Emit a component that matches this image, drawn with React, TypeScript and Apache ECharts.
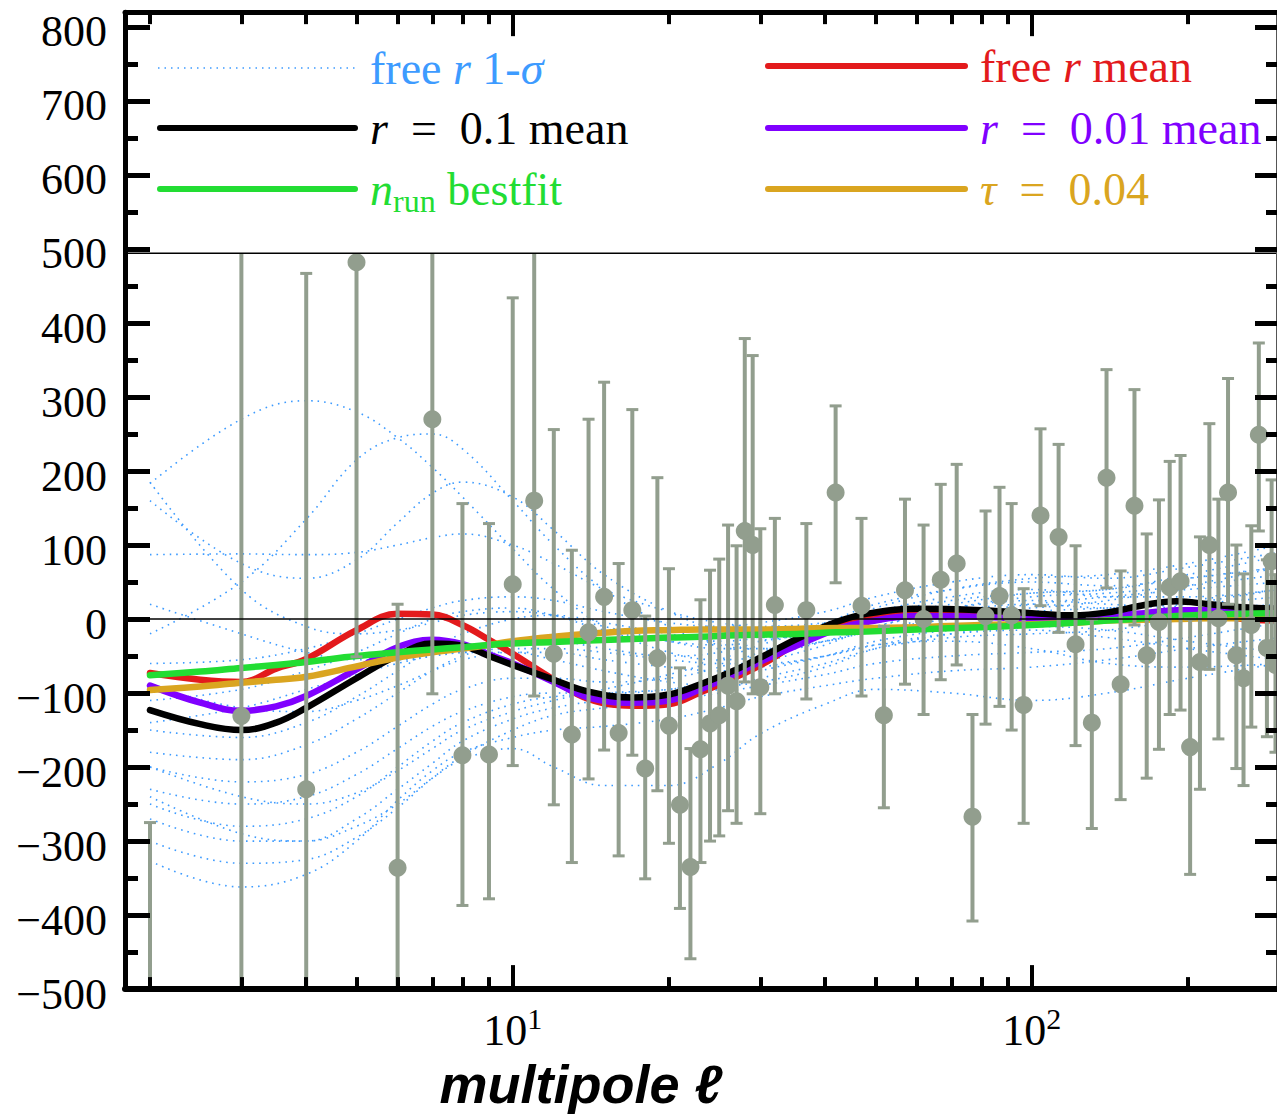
import React, { useEffect, useRef } from 'react';
import * as echarts from 'echarts';

const SERIF = '"Liberation Serif", "Times New Roman", serif';
const SANS = '"Liberation Sans", Arial, sans-serif';

const COLOR_SAMPLE = '#3d9bff';
const COLOR_FREE = '#e31a1c';
const COLOR_R01 = '#000000';
const COLOR_R001 = '#8000ff';
const COLOR_NRUN = '#22dd33';
const COLOR_TAU = '#daa520';
const COLOR_DATA = '#929e8e';

// ---- measured band powers with error bars ----
const multipoles = [
  2, 3, 4, 5, 6, 7, 8, 9, 10, 11, 12, 13, 14, 15, 16, 17, 18, 19, 20, 21, 22, 23, 24, 25, 26, 27, 28, 29, 30,
  32, 36.8, 41.9, 47, 51.9, 57, 61.9, 66.8, 71.7, 76.9, 81.5, 86.7, 91.5, 96.5, 104, 112.7, 121.5, 130.6, 139.4, 148.4,
  157.8, 166.6, 175.9, 184.5, 193.6, 202, 211, 220, 229, 239, 248, 256, 265, 274, 284, 290, 295,
];
const bandpowers = [
  -720, -131, -230, 482, -336, 270, -184, -183, 47, 160, -47, -156, -18, 30, -154, 12, -202, -53, -144, -251,
  -335, -176, -141, -130, -90, -111, 119, 100, -92,
  19, 12, 171, 18, -130, 39, 0, 53, 75, -267, 4, 31, 5, -116, 140, 111, -34, -140, 191, -88,
  153, -49, -4, 43, 51, -173, -58, 100, 1, 171, -49, -80, -8, 249, -39, 78, -62,
];
const errorLow = [
  -1100, -830, -930, -51, -690, -101, -387, -378, -198, -104, -251, -329, -216, -177, -320, -184, -351, -232, -303, -391,
  -459, -329, -300, -293, -259, -276, -85, -101, -263,
  -101, -108, 49, -104, -255, -88, -129, -82, -62, -408, -142, -118, -150, -276, 18, -18, -171, -283, 42, -244,
  -8, -215, -176, -129, -123, -345, -230, -68, -162, 20, -202, -225, -146, 119, -159, -30, -180,
];
const errorHigh = [
  -275, 570, 467, 1015, 20, 640, 156, 129, 434, 560, 256, 93, 270, 320, 75, 283, 4, 191, 68, -66,
  -175, 26, 66, 81, 127, 99, 379, 356, 122,
  136, 129, 288, 136, -10, 162, 127, 182, 209, -129, 146, 178, 156, 41, 257, 236, 99, 0, 337, 65,
  310, 115, 161, 213, 221, 0, 111, 264, 162, 325, 100, 61, 126, 373, 80, 188, 60,
];

// ---- model curves ----
const curveEll = [2, 2.5, 3, 3.5, 4, 5, 6, 7, 8, 9, 10, 12, 14, 17, 20, 23, 27, 31, 36, 42, 48, 60, 80, 100, 120, 140, 165, 190, 220, 255, 300];
const freeRMean = [-73, -82, -85, -67, -54, -15, 7, 6, -8, -28, -47, -82, -108, -117, -115, -99, -78, -57, -29, -10, 3, 9, 5, 0, -1, 1, 3, 6, 7, 0, -2];
const r01Mean = [-123, -142, -150, -140, -120, -80, -49, -33, -36, -50, -62, -82, -98, -106, -102, -88, -68, -47, -24, -4, 7, 14, 12, 8, 5, 9, 19, 24, 20, 16, 14];
const r001Mean = [-90, -113, -124, -118, -104, -68, -38, -28, -34, -48, -60, -85, -106, -113, -110, -95, -73, -53, -33, -14, -4, 4, 3, 0, -1, 4, 8, 12, 12, 13, 14];
const nRunBestfit = [-76, -71, -66, -62, -58, -50, -45, -41, -38, -35, -33, -31, -29, -27, -25, -24, -22, -21, -20, -18, -17, -14, -11, -8, -5, -2, 1, 4, 6, 7, 8];
const tau004 = [-96, -91, -86, -82, -78, -64, -52, -45, -40, -35, -30, -24, -20, -16, -15, -14, -14, -14, -13, -12, -12, -11, -8, -7, -5, -2, -1, 0, 1, 1, 2];

// ---- free r 1-sigma sample curves ----
const sampleEll = [2, 3, 4, 5, 6, 7, 8, 10, 12, 15, 20, 25, 30, 40, 50, 70, 100, 140, 200, 300];
const freeRSamples = [
  [183, 270, 295, 280, 245, 205, 165, 95, 40, -10, -45, -55, -50, -30, -10, 10, 20, 15, 25, 40],
  [-20, 50, 135, 215, 245, 250, 230, 160, 100, 40, -10, -35, -40, -30, -15, 5, 20, 30, 40, 50],
  [160, 75, 55, 80, 130, 170, 185, 165, 120, 60, 10, -15, -25, -20, -5, 15, 30, 35, 45, 60],
  [87, 88, 87, 90, 100, 110, 115, 100, 75, 40, 10, -5, -10, -5, 5, 20, 35, 40, 55, 70],
  [185, 40, -10, -20, -15, -5, 5, 10, 5, -10, -30, -40, -40, -30, -15, 0, 10, 15, 20, 30],
  [-110, -95, -70, -45, -20, 0, 10, 15, 5, -15, -30, -35, -30, -15, 0, 15, 25, 20, 15, 20],
  [-150, -160, -140, -105, -70, -40, -20, 0, 5, -5, -20, -30, -25, -10, 10, 30, 40, 30, 30, 40],
  [-180, -190, -170, -135, -100, -70, -50, -30, -30, -40, -50, -45, -30, -5, 20, 40, 50, 45, 55, 70],
  [-200, -220, -210, -180, -145, -115, -95, -80, -80, -85, -80, -65, -45, -20, 5, 25, 35, 40, 60, 85],
  [-230, -250, -240, -210, -175, -145, -125, -105, -100, -100, -95, -80, -60, -35, -10, 10, 15, 25, 45, 70],
  [-250, -280, -270, -240, -200, -165, -140, -115, -105, -100, -95, -85, -70, -50, -30, -15, -10, 0, 20, 40],
  [-270, -300, -300, -270, -230, -195, -165, -135, -120, -110, -105, -95, -80, -60, -40, -25, -20, -15, 0, 20],
  [-300, -330, -325, -295, -255, -215, -185, -150, -130, -120, -110, -100, -90, -75, -60, -50, -45, -40, -25, -5],
  [-327, -362, -345, -300, -245, -205, -180, -160, -150, -145, -135, -120, -105, -90, -80, -70, -65, -55, -40, -25],
  [-240, -290, -300, -280, -250, -215, -190, -175, -200, -225, -225, -195, -155, -115, -95, -100, -110, -100, -80, -60],
  [-140, -120, -95, -75, -60, -50, -45, -45, -55, -70, -85, -90, -85, -65, -40, -20, -10, -15, -30, -45],
  [-60, -55, -40, -20, 0, 15, 25, 30, 25, 10, -5, -10, -5, 10, 30, 50, 60, 55, 70, 90],
  [20, -20, -45, -55, -55, -50, -45, -40, -40, -45, -55, -60, -60, -50, -35, -20, -15, -25, -40, -55],
  [-90, -120, -125, -110, -90, -70, -55, -45, -45, -55, -65, -70, -65, -50, -35, -30, -40, -60, -65, -60],
  [-200, -240, -250, -235, -205, -175, -150, -125, -110, -95, -75, -55, -35, -10, 15, 40, 55, 60, 75, 100],
];

// ---- axes ----
const X_MIN = 1.79;
const X_MAX = 297;
const Y_MIN = -500;
const Y_MAX = 820;
const xMajorTicks = [10, 100];
const xMinorTicks = [2, 3, 4, 5, 6, 7, 8, 9, 20, 30, 40, 50, 60, 70, 80, 90, 200];
const yMajorTicks = [-500, -400, -300, -200, -100, 0, 100, 200, 300, 400, 500, 600, 700, 800];
const yMinorTicks = [-450, -350, -250, -150, -50, 50, 150, 250, 350, 450, 550, 650, 750];

const LEGEND_BOTTOM_VALUE = 495;

function pairs(xs: number[], ys: number[]) {
  return xs.map((x, i) => [x, ys[i]]);
}

function buildOption(): any {
  const GRID = { left: 125, right: 0, top: 12, bottom: 124 };
  const plotH = 1116 - GRID.top - GRID.bottom;
  const legendBottomPx = GRID.top + ((Y_MAX - LEGEND_BOTTOM_VALUE) / (Y_MAX - Y_MIN)) * plotH;

  const xAxisCommon = {
    type: 'log',
    logBase: 10,
    min: X_MIN,
    max: X_MAX,
    z: 10,
    splitLine: { show: false },
    minorTick: { show: false },
    minorSplitLine: { show: false },
  };
  const yAxisCommon = {
    type: 'value',
    min: Y_MIN,
    max: Y_MAX,
    z: 10,
    splitLine: { show: false },
    minorTick: { show: false },
  };

  const series: any[] = [];

  freeRSamples.forEach((vals, k) => {
    const s: any = {
      name: 'free r 1-σ',
      type: 'line',
      z: 1,
      silent: true,
      smooth: 0.4,
      symbol: 'none',
      data: pairs(sampleEll, vals),
      lineStyle: { color: COLOR_SAMPLE, width: 1.6, type: [1.6, 5] },
    };
    if (k === 0) {
      s.markLine = {
        silent: true,
        symbol: ['none', 'none'],
        label: { show: false },
        lineStyle: { color: '#000', width: 1.5, type: 'solid' },
        data: [{ yAxis: 0 }],
      };
    }
    series.push(s);
  });

  const curveDefs = [
    { name: 'free r mean', data: freeRMean, color: COLOR_FREE },
    { name: 'r = 0.01 mean', data: r001Mean, color: COLOR_R001 },
    { name: 'r = 0.1 mean', data: r01Mean, color: COLOR_R01 },
    { name: 'τ = 0.04', data: tau004, color: COLOR_TAU },
    { name: 'n_run bestfit', data: nRunBestfit, color: COLOR_NRUN },
  ];
  curveDefs.forEach((c) => {
    series.push({
      name: c.name,
      type: 'line',
      z: 2,
      silent: true,
      smooth: 0.4,
      symbol: 'none',
      data: pairs(curveEll, c.data),
      lineStyle: { color: c.color, width: 6.5, cap: 'round', join: 'round' },
    });
  });

  series.push({
    name: 'data error',
    type: 'custom',
    z: 3,
    silent: true,
    data: multipoles.map((l, i) => [l, errorLow[i], errorHigh[i]]),
    encode: { x: 0, y: [1, 2] },
    renderItem: (params: any, api: any) => {
      const l = api.value(0);
      const lo = api.value(1);
      const hi = api.value(2);
      const cs = params.coordSys;
      const pLo = api.coord([l, lo]);
      const pHi = api.coord([l, hi]);
      const x = pLo[0];
      const yTop = cs.y;
      const yBot = cs.y + cs.height;
      if (x < cs.x - 2 || x > cs.x + cs.width + 2) return null;
      const y1 = Math.max(yTop, Math.min(yBot, pHi[1]));
      const y2 = Math.max(yTop, Math.min(yBot, pLo[1]));
      const style = { stroke: COLOR_DATA, lineWidth: 4 };
      const children: any[] = [
        { type: 'line', shape: { x1: x, y1, x2: x, y2 }, style },
      ];
      const capW = 6;
      if (pHi[1] >= yTop && pHi[1] <= yBot) {
        children.push({ type: 'line', shape: { x1: x - capW, y1: pHi[1], x2: x + capW, y2: pHi[1] }, style: { stroke: COLOR_DATA, lineWidth: 3 } });
      }
      if (pLo[1] >= yTop && pLo[1] <= yBot) {
        children.push({ type: 'line', shape: { x1: x - capW, y1: pLo[1], x2: x + capW, y2: pLo[1] }, style: { stroke: COLOR_DATA, lineWidth: 3 } });
      }
      return { type: 'group', children };
    },
  });

  series.push({
    name: 'data',
    type: 'scatter',
    z: 4,
    silent: true,
    clip: true,
    symbol: 'circle',
    symbolSize: 18,
    itemStyle: { color: COLOR_DATA, opacity: 1 },
    data: pairs(multipoles, bandpowers),
  });

  const baseRich = {
    n: { fontFamily: SERIF, fontSize: 46, lineHeight: 56 },
    i: { fontFamily: SERIF, fontSize: 46, lineHeight: 56, fontStyle: 'italic' },
    sub: { fontFamily: SERIF, fontSize: 32, lineHeight: 32, verticalAlign: 'bottom' },
  };

  const EQ = '\u2002=\u2002';
  const legendRows = [
    { x1: 158, x2: 355, y: 68, tx: 370, color: COLOR_SAMPLE, dotted: true, text: '{n|free }{i|r}{n| 1-}{i|σ}' },
    { x1: 160, x2: 355, y: 128, tx: 370, color: COLOR_R01, dotted: false, text: '{i|r}{n|' + EQ + '0.1 mean}' },
    { x1: 160, x2: 355, y: 189, tx: 370, color: COLOR_NRUN, dotted: false, text: '{i|n}{sub|run}{n| bestfit}' },
    { x1: 768, x2: 965, y: 66, tx: 980, color: COLOR_FREE, dotted: false, text: '{n|free }{i|r}{n| mean}' },
    { x1: 768, x2: 965, y: 128, tx: 980, color: COLOR_R001, dotted: false, text: '{i|r}{n|' + EQ + '0.01 mean}' },
    { x1: 768, x2: 965, y: 189, tx: 980, color: COLOR_TAU, dotted: false, text: '{i|τ}{n|' + EQ + '0.04}' },
  ];

  const graphicEls: any[] = [
    {
      type: 'rect',
      z: 5,
      silent: true,
      shape: { x: GRID.left, y: GRID.top, width: 1277 - GRID.left, height: legendBottomPx - GRID.top },
      style: { fill: '#ffffff' },
    },
    {
      type: 'line',
      z: 6,
      silent: true,
      shape: { x1: GRID.left, y1: legendBottomPx, x2: 1277, y2: legendBottomPx },
      style: { stroke: '#000', lineWidth: 1.5 },
    },
  ];
  legendRows.forEach((r) => {
    graphicEls.push({
      type: 'line',
      z: 6,
      silent: true,
      shape: { x1: r.x1, y1: r.y, x2: r.x2, y2: r.y },
      style: r.dotted
        ? { stroke: r.color, lineWidth: 1.5, lineDash: [1.5, 5] }
        : { stroke: r.color, lineWidth: 6, lineCap: 'round' },
    });
    graphicEls.push({
      type: 'text',
      z: 6,
      silent: true,
      x: r.tx,
      y: r.y,
      style: {
        text: r.text,
        fill: r.color,
        fontFamily: SERIF,
        fontSize: 46,
        verticalAlign: 'middle',
        align: 'left',
        rich: baseRich,
      },
    });
  });

  const yLabelFormatter = (v: number) => '{t|' + (v < 0 ? '\u2212' + Math.abs(v) : String(v)) + '}';
  const xLabelFormatter = (v: number) => '{b|10}{s|' + Math.round(Math.log10(v)) + '}';

  return {
    animation: false,
    backgroundColor: '#ffffff',
    grid: { ...GRID, containLabel: false },
    xAxis: [
      {
        ...xAxisCommon,
        position: 'bottom',
        axisLine: { show: true, onZero: false, lineStyle: { color: '#000', width: 6 } },
        axisTick: { show: true, inside: true, length: 12, lineStyle: { color: '#000', width: 4 }, customValues: xMinorTicks },
        axisLabel: {
          show: true,
          customValues: xMajorTicks,
          margin: 14,
          formatter: xLabelFormatter,
          color: '#000',
          rich: {
            b: { fontFamily: SERIF, fontSize: 44, lineHeight: 54, color: '#000' },
            s: { fontFamily: SERIF, fontSize: 30, lineHeight: 30, verticalAlign: 'top', color: '#000' },
          },
        },
        name: 'multipole ℓ',
        nameLocation: 'middle',
        nameGap: 60,
        nameTextStyle: {
          fontFamily: SANS,
          fontWeight: 'bold',
          fontStyle: 'italic',
          fontSize: 54,
          color: '#000',
          padding: [0, 240, 0, 0],
        },
      },
      {
        ...xAxisCommon,
        position: 'bottom',
        axisLine: { show: false, onZero: false },
        axisTick: { show: true, inside: true, length: 24, lineStyle: { color: '#000', width: 4 }, customValues: xMajorTicks },
        axisLabel: { show: false },
      },
      {
        ...xAxisCommon,
        position: 'top',
        axisLine: { show: true, onZero: false, lineStyle: { color: '#000', width: 5 } },
        axisTick: { show: true, inside: true, length: 12, lineStyle: { color: '#000', width: 4 }, customValues: xMinorTicks },
        axisLabel: { show: false },
      },
      {
        ...xAxisCommon,
        position: 'top',
        axisLine: { show: false, onZero: false },
        axisTick: { show: true, inside: true, length: 24, lineStyle: { color: '#000', width: 4 }, customValues: xMajorTicks },
        axisLabel: { show: false },
      },
    ],
    yAxis: [
      {
        ...yAxisCommon,
        position: 'left',
        axisLine: { show: true, onZero: false, lineStyle: { color: '#000', width: 5 } },
        axisTick: { show: true, inside: true, length: 25, lineStyle: { color: '#000', width: 5 }, customValues: yMajorTicks },
        axisLabel: {
          show: true,
          customValues: yMajorTicks,
          margin: 18,
          formatter: yLabelFormatter,
          color: '#000',
          rich: {
            t: { fontFamily: SERIF, fontSize: 44, lineHeight: 50, padding: [10, 0, 0, 0], color: '#000' },
          },
        },
      },
      {
        ...yAxisCommon,
        position: 'left',
        axisLine: { show: false, onZero: false },
        axisTick: { show: true, inside: true, length: 13, lineStyle: { color: '#000', width: 5 }, customValues: yMinorTicks },
        axisLabel: { show: false },
      },
      {
        ...yAxisCommon,
        position: 'right',
        axisLine: { show: true, onZero: false, lineStyle: { color: '#555', width: 2 } },
        axisTick: { show: true, inside: true, length: 22, lineStyle: { color: '#000', width: 5 }, customValues: yMajorTicks },
        axisLabel: { show: false },
      },
      {
        ...yAxisCommon,
        position: 'right',
        axisLine: { show: false, onZero: false },
        axisTick: { show: true, inside: true, length: 11, lineStyle: { color: '#000', width: 5 }, customValues: yMinorTicks },
        axisLabel: { show: false },
      },
    ],
    graphic: { elements: graphicEls },
    series,
  };
}

export default function App() {
  const ref = useRef<HTMLDivElement>(null);
  useEffect(() => {
    if (!ref.current) return;
    const chart = echarts.init(ref.current, undefined, { renderer: 'svg' });
    chart.setOption(buildOption());
    return () => {
      chart.dispose();
    };
  }, []);
  return (
    <div
      ref={ref}
      style={{ position: 'absolute', left: 0, top: 0, width: 1277, height: 1116, background: '#fff' }}
    />
  );
}
